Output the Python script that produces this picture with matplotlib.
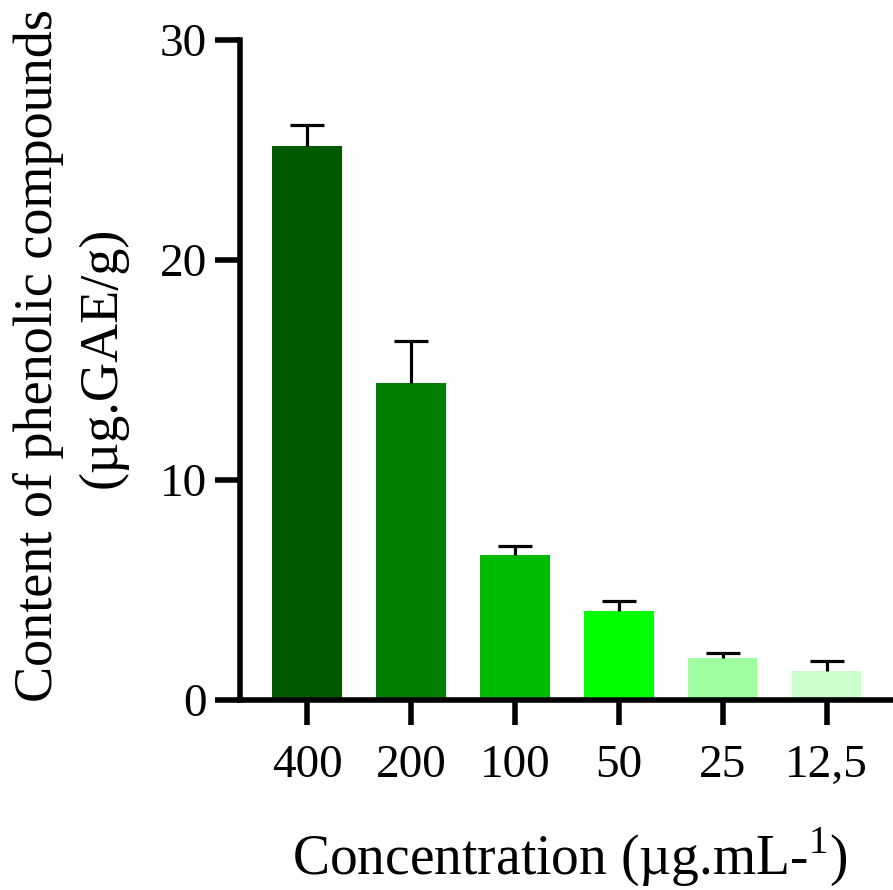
import matplotlib
matplotlib.use("Agg")
import matplotlib.pyplot as plt
import numpy as np

categories = ["400", "200", "100", "50", "25", "12,5"]
values = [25.2, 14.4, 6.6, 4.05, 1.9, 1.3]
errors = [0.95, 1.9, 0.38, 0.45, 0.25, 0.47]
colors = ["#005a00", "#008000", "#00bb00", "#00ff00", "#a0ffa0", "#ccffcc"]

plt.rcParams['font.family'] = ['Liberation Serif', 'DejaVu Serif']
plt.rcParams['mathtext.fontset'] = 'custom'
plt.rcParams['mathtext.rm'] = 'Liberation Serif'

fig = plt.figure(figsize=(8.93, 8.90), dpi=100)
ax = fig.add_axes([0.269, 0.2135, 0.731, 0.7416])

x = np.arange(len(categories))
ax.bar(x, values, width=0.67, color=colors, zorder=2)
eb = ax.errorbar(x, values, yerr=[np.zeros(len(errors)), errors], fmt='none',
                 ecolor='black', elinewidth=2.3, capsize=12, capthick=2.3, zorder=3)
eb[1][0].set_visible(False)

ax.set_xlim(-0.645, 5.64)
ax.set_ylim(0, 30)
ax.set_yticks([0, 10, 20, 30])
ax.set_xticks(x)
ax.set_xticklabels(categories)
for s in ['top', 'right']:
    ax.spines[s].set_visible(False)
for s in ['left', 'bottom']:
    ax.spines[s].set_linewidth(4)
ax.tick_params(axis='both', width=4, length=18, labelsize=34, direction='out')
ax.tick_params(axis='y', pad=6)
ax.tick_params(axis='x', pad=14)

fig.text(0.638, 0.037, r'Concentration (µg.mL-$^{1}$)', ha='center', va='center', fontsize=40)
fig.text(0.043, 0.601, 'Content of phenolic compounds', rotation=90, ha='center', va='center', fontsize=39)
fig.text(0.115, 0.599, '(µg.GAE/g)', rotation=90, ha='center', va='center', fontsize=39)

fig.savefig("out.png", dpi=100)
